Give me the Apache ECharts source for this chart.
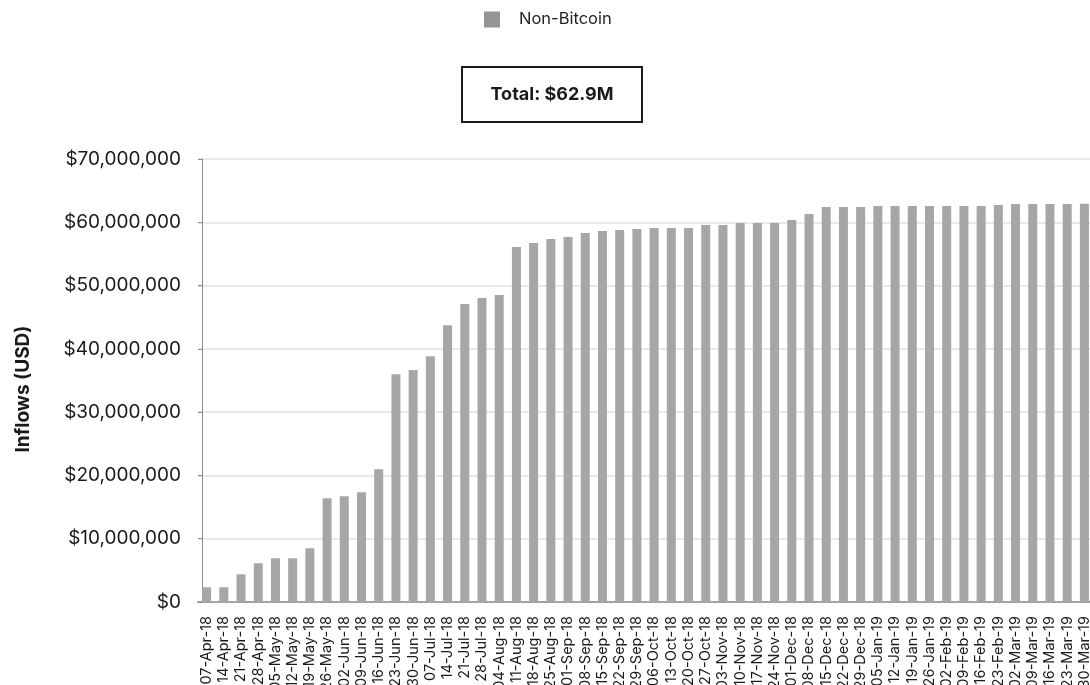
<!DOCTYPE html>
<html>
<head>
<meta charset="utf-8">
<script src="https://cdn.jsdelivr.net/npm/echarts@6/dist/echarts.min.js"></script>
<style>
  html, body { margin: 0; padding: 0; background: #ffffff; }
  #chart { width: 1090px; height: 685px; }
</style>
</head>
<body>
<div id="chart"></div>
<script>
// Weekly cumulative inflows (USD)
const weeks = [
  '07-Apr-18','14-Apr-18','21-Apr-18','28-Apr-18','05-May-18','12-May-18','19-May-18','26-May-18',
  '02-Jun-18','09-Jun-18','16-Jun-18','23-Jun-18','30-Jun-18','07-Jul-18','14-Jul-18','21-Jul-18',
  '28-Jul-18','04-Aug-18','11-Aug-18','18-Aug-18','25-Aug-18','01-Sep-18','08-Sep-18','15-Sep-18',
  '22-Sep-18','29-Sep-18','06-Oct-18','13-Oct-18','20-Oct-18','27-Oct-18','03-Nov-18','10-Nov-18',
  '17-Nov-18','24-Nov-18','01-Dec-18','08-Dec-18','15-Dec-18','22-Dec-18','29-Dec-18','05-Jan-19',
  '12-Jan-19','19-Jan-19','26-Jan-19','02-Feb-19','09-Feb-19','16-Feb-19','23-Feb-19','02-Mar-19',
  '09-Mar-19','16-Mar-19','23-Mar-19','30-Mar-19'
];

const nonBitcoin = [
  2320000, 2320000, 4380000, 6120000, 6910000, 6910000, 8490000, 16400000,
  16700000, 17350000, 20980000, 36000000, 36660000, 38850000, 43750000, 47070000,
  48020000, 48500000, 56090000, 56720000, 57350000, 57670000, 58300000, 58620000,
  58780000, 58930000, 59090000, 59090000, 59090000, 59570000, 59570000, 59880000,
  59880000, 59880000, 60360000, 61300000, 62410000, 62410000, 62410000, 62570000,
  62570000, 62570000, 62570000, 62570000, 62570000, 62570000, 62730000, 62880000,
  62880000, 62880000, 62880000, 62940000
];

const yTicks = { min: 0, max: 70000000, interval: 10000000 };
const totalLabel = 'Total: $62.9M';
const yTitle = 'Inflows (USD)';
const FONT = 'Inter';

const chart = echarts.init(document.getElementById('chart'), null, { renderer: 'canvas' });

chart.setOption({
  backgroundColor: '#ffffff',
  animation: false,
  textStyle: { fontFamily: FONT },
  legend: {
    left: 484,
    top: 11,
    padding: 0,
    icon: 'rect',
    itemWidth: 16,
    itemHeight: 16,
    data: [{ name: 'Non-Bitcoin', itemStyle: { color: '#939598' } }],
    textStyle: { fontFamily: FONT, fontSize: 16.5, color: '#222222', padding: [0, 0, 0, 14] }
  },
  graphic: [
    {
      type: 'group',
      left: 461,
      top: 66,
      children: [
        {
          type: 'rect',
          shape: { x: 0, y: 0, width: 180, height: 55 },
          style: { fill: '#ffffff', stroke: '#1a1a1a', lineWidth: 2 }
        },
        {
          type: 'text',
          x: 90,
          y: 28,
          style: {
            text: totalLabel,
            fontFamily: FONT,
            fontSize: 18,
            fontWeight: 'bold',
            fill: '#1a1a1a',
            align: 'center',
            verticalAlign: 'middle'
          }
        }
      ]
    },
    {
      // vertical axis title
      type: 'text',
      x: 23,
      y: 389,
      rotation: Math.PI / 2,
      style: {
        text: yTitle,
        fontFamily: FONT,
        fontSize: 19,
        fontWeight: 'bold',
        fill: '#1a1a1a',
        align: 'center',
        verticalAlign: 'middle'
      }
    }
  ],
  grid: {
    left: 198, right: -3, top: 159, bottom: 83,
    containLabel: false,
    outerBoundsMode: 'none'
  },
  xAxis: {
    type: 'category',
    data: weeks,
    boundaryGap: true,
    axisLine: { show: true, lineStyle: { color: '#a3a3a3', width: 2 } },
    axisTick: { show: false },
    axisLabel: {
      interval: 0,
      rotate: 90,
      margin: 14,
      fontFamily: FONT,
      fontSize: 14.5,
      color: '#1a1a1a'
    },
    splitLine: { show: false }
  },
  yAxis: {
    type: 'value',
    min: yTicks.min,
    max: yTicks.max,
    interval: yTicks.interval,
    offset: -4,
    axisLine: { show: true, lineStyle: { color: '#8a8a8a', width: 1 } },
    axisTick: { show: true, length: 4, lineStyle: { color: '#8a8a8a' } },
    axisLabel: {
      margin: 21,
      fontFamily: FONT,
      fontSize: 19,
      color: '#1a1a1a',
      formatter: v => '$' + v.toLocaleString('en-US')
    },
    splitLine: { show: true, lineStyle: { color: '#e2e2e2', width: 1.5 } }
  },
  series: [{
    name: 'Non-Bitcoin',
    type: 'bar',
    data: nonBitcoin,
    barWidth: 9,
    itemStyle: { color: '#a6a6a6' }
  }]
});
</script>
</body>
</html>
